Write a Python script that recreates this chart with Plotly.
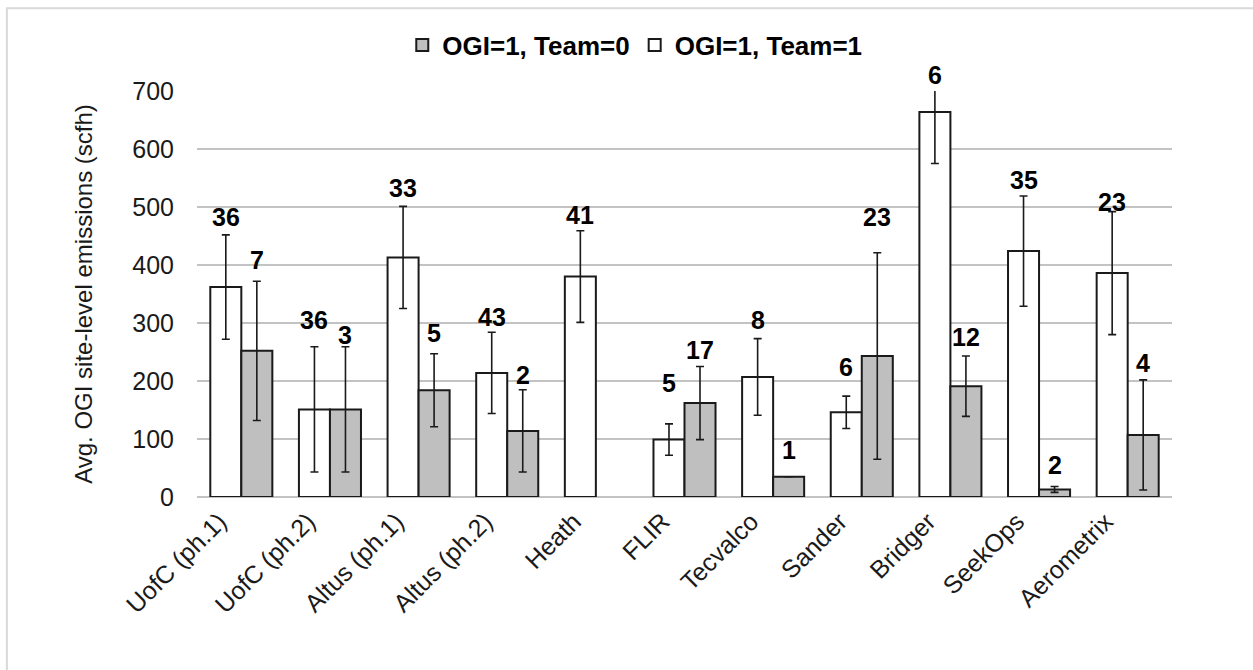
import plotly.graph_objects as go

# Sites / vendors along the x axis
categories = ["UofC (ph.1)", "UofC (ph.2)", "Altus (ph.1)", "Altus (ph.2)", "Heath",
              "FLIR", "Tecvalco", "Sander", "Bridger", "SeekOps", "Aerometrix"]

# OGI=1, Team=1 (white bars)
team1_mean = [362, 151, 413, 214, 380, 99, 207, 146, 664, 424, 386]
team1_err = [90, 108, 88, 70, 79, 27, 66, 28, 89, 95, 106]
team1_n = [36, 36, 33, 43, 41, 5, 8, 6, 6, 35, 23]

# OGI=1, Team=0 (grey bars)
team0_mean = [252, 151, 184, 114, None, 162, 35, 243, 191, 13, 107]
team0_err = [120, 108, 63, 71, None, 63, None, 178, 52, 5, 95]
team0_n = [7, 3, 5, 2, None, 17, 1, 23, 12, 2, 4]

# Heights (in scfh) at which the sample-count labels sit
team1_label_y = [483, 305, 532, 311, 486, 197, 305, 225, 727, 546, 509]
team0_label_y = [408, 279, 282, 210, None, 253, 81, 483, 276, 55, 231]

Y_MAX = 700
FONT = "Liberation Sans, Arial, sans-serif"
INK = "#1a1a1a"

fig = go.Figure()

fig.add_trace(go.Bar(
    name="OGI=1, Team=1", x=categories, y=team1_mean,
    marker=dict(color="#ffffff", line=dict(color=INK, width=2)),
    error_y=dict(type="data", array=team1_err, visible=True,
                 color=INK, thickness=1.6, width=4),
))
fig.add_trace(go.Bar(
    name="OGI=1, Team=0", x=categories, y=team0_mean,
    marker=dict(color="#bfbfbf", line=dict(color=INK, width=2)),
    error_y=dict(type="data", array=team0_err, visible=True,
                 color=INK, thickness=1.6, width=4),
))

# Sample-count labels above each bar (offset left/right within the group);
# placed on the paper so that labels above the axis range stay visible
bar_w = 0.35
label_font = dict(family=FONT, size=25, color="#000000")
for i, cat in enumerate(categories):
    if team1_n[i] is not None:
        fig.add_annotation(x=i - bar_w / 2, y=team1_label_y[i] / Y_MAX,
                           xref="x", yref="paper", xanchor="center", yanchor="middle",
                           text=f"<b>{team1_n[i]}</b>", showarrow=False, font=label_font)
    if team0_n[i] is not None:
        fig.add_annotation(x=i + bar_w / 2, y=team0_label_y[i] / Y_MAX,
                           xref="x", yref="paper", xanchor="center", yanchor="middle",
                           text=f"<b>{team0_n[i]}</b>", showarrow=False, font=label_font)

# Light outer frame around the chart
fig.add_shape(type="rect", xref="paper", yref="paper",
              x0=-0.195, x1=1.4, y0=-0.8, y1=1.204,
              line=dict(color="#d9d9d9", width=2), fillcolor="rgba(0,0,0,0)", layer="below")

fig.update_layout(
    width=1253, height=670,
    margin=dict(l=197, r=81, t=91, b=173),
    paper_bgcolor="#ffffff", plot_bgcolor="#ffffff",
    barmode="group", bargap=0.30, bargroupgap=0,
    font=dict(family=FONT, size=25, color=INK),
    showlegend=True,
    legend=dict(orientation="h", traceorder="reversed",
                x=0.449, xanchor="center", y=1.113, yanchor="middle",
                font=dict(family=FONT, size=26, color="#000000", weight="bold"),
                itemwidth=30, bgcolor="rgba(0,0,0,0)"),
    xaxis=dict(
        type="category", tickangle=-45, showgrid=False, showline=False,
        ticks="", tickfont=dict(family=FONT, size=25, color=INK),
        ticklabelstandoff=4, ticklabelshift=-22,
    ),
    yaxis=dict(
        range=[0, Y_MAX], dtick=100, showgrid=True, gridcolor="#c3c3c3", gridwidth=1.6,
        zeroline=True, zerolinecolor="#c3c3c3", zerolinewidth=1.6,
        showline=False, ticks="", ticklabelstandoff=22,
        tickfont=dict(family=FONT, size=25, color=INK),
        title=dict(text="Avg. OGI site-level emissions (scfh)", standoff=32,
                   font=dict(family=FONT, size=24, color=INK)),
    ),
)

fig.write_html("out.html")
